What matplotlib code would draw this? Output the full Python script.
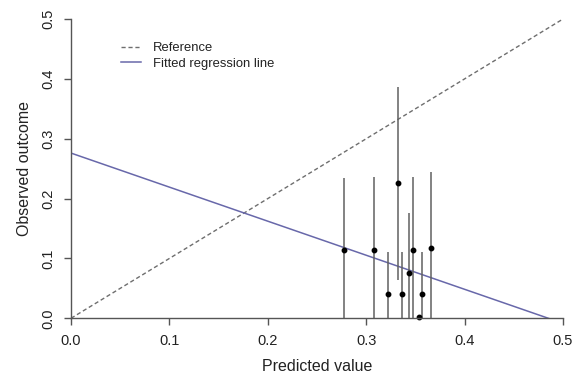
import matplotlib
matplotlib.use("Agg")
import matplotlib.pyplot as plt
import numpy as np

plt.rcParams['font.family'] = ['Liberation Sans', 'DejaVu Sans']

# Data
pred = [0.277, 0.308, 0.322, 0.332, 0.336, 0.343, 0.348, 0.354, 0.357, 0.366]
obs = [0.114, 0.114, 0.040, 0.226, 0.040, 0.076, 0.114, 0.002, 0.040, 0.118]
ci_low = [0.0, 0.0, 0.0, 0.064, 0.0, 0.0, 0.0, 0.0, 0.0, 0.0]
ci_high = [0.235, 0.236, 0.111, 0.386, 0.111, 0.176, 0.236, 0.002, 0.111, 0.244]
ref_x = [0.0, 0.5]
ref_y = [0.0, 0.5]
fit_intercept = 0.276
fit_slope = -0.569
ticks = [0.0, 0.1, 0.2, 0.3, 0.4, 0.5]
tick_labels = ["0.0", "0.1", "0.2", "0.3", "0.4", "0.5"]

fig = plt.figure(figsize=(5.85, 3.78), dpi=100)
ax = fig.add_axes([0.1214, 0.158, 0.8410, 0.7917])

axis_col = '#555555'
ax.plot(ref_x, ref_y, linestyle=(0, (3, 2)), color='#6e6e6e', lw=1.0, label='Reference')
fx = np.array([0.0, 0.5])
ax.plot(fx, fit_intercept + fit_slope * fx, color='#6868aa', lw=1.1, label='Fitted regression line')

ax.vlines(pred, ci_low, ci_high, color='#606060', lw=1.1)
ax.plot(pred, obs, 'o', color='black', ms=3.2, clip_on=False)

ax.set_xlim(0, 0.5)
ax.set_ylim(0, 0.5)
ax.set_xticks(ticks)
ax.set_xticklabels(tick_labels)
ax.set_yticks(ticks)
ax.set_yticklabels(tick_labels, rotation=90, va='center')

for s in ['top', 'right']:
    ax.spines[s].set_visible(False)
for s in ['left', 'bottom']:
    ax.spines[s].set_color(axis_col)
    ax.spines[s].set_linewidth(1.0)
ax.tick_params(axis='both', direction='out', length=5, width=1.0, color=axis_col,
               labelsize=10.5, labelcolor='#222222')
ax.tick_params(axis='x', pad=6)
ax.tick_params(axis='y', pad=6)

ax.set_xlabel('Predicted value', fontsize=11.5, color='#222222', labelpad=8)
ax.set_ylabel('Observed outcome', fontsize=11.5, color='#222222', labelpad=7)

leg = ax.legend(loc='upper left', bbox_to_anchor=(0.09, 0.94), frameon=False,
                fontsize=9.4, handlelength=1.6, handletextpad=0.9, labelspacing=0.25,
                borderaxespad=0)
for t in leg.get_texts():
    t.set_color('#222222')

fig.savefig('out.png', dpi=100)
